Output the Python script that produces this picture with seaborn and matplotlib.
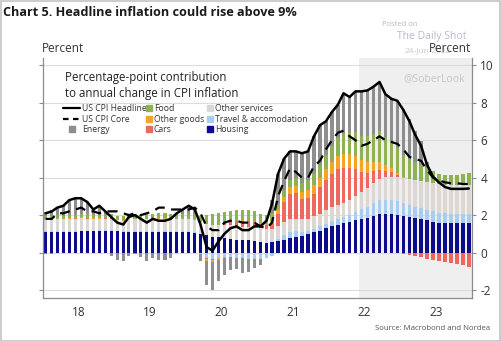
import numpy as np
import pandas as pd
import matplotlib
matplotlib.use("Agg")
import matplotlib.pyplot as plt
from matplotlib.lines import Line2D
from matplotlib.patches import Rectangle
import seaborn as sns

# Monthly observations, Jan 2018 - Dec 2023 (forecast from Jun 2022)
months = pd.date_range("2018-01-01", "2023-12-01", freq="MS") + pd.Timedelta(days=14)

headline = [2.1, 2.2, 2.4, 2.5, 2.8, 2.9, 2.9, 2.7, 2.3, 2.5, 2.2, 1.9,
            1.6, 1.5, 1.9, 2.0, 1.8, 1.6, 1.8, 1.7, 1.7, 1.8, 2.1, 2.3,
            2.5, 2.3, 1.5, 0.3, 0.1, 0.6, 1.0, 1.3, 1.4, 1.2, 1.2, 1.4,
            1.4, 1.7, 2.6, 4.2, 5.0, 5.4, 5.4, 5.3, 5.4, 6.2, 6.8, 7.0,
            7.5, 7.9, 8.5, 8.3, 8.6, 8.6, 8.65, 8.85, 9.1, 8.45, 8.2, 8.1,
            7.6, 7.0, 6.3, 5.7, 4.7, 4.05, 3.75, 3.5, 3.4, 3.4, 3.4, 3.42]

core = [1.8, 1.8, 2.1, 2.1, 2.2, 2.3, 2.4, 2.2, 2.2, 2.1, 2.2, 2.2,
        2.2, 2.1, 2.0, 2.1, 2.0, 2.1, 2.2, 2.4, 2.4, 2.3, 2.3, 2.3,
        2.3, 2.4, 2.1, 1.4, 1.2, 1.2, 1.6, 1.7, 1.7, 1.6, 1.6, 1.6,
        1.4, 1.3, 1.6, 3.0, 3.8, 4.5, 4.3, 4.0, 4.0, 4.6, 4.9, 5.5,
        6.0, 6.4, 6.5, 6.2, 6.0, 5.7, 5.8, 6.0, 6.2, 6.0, 5.9, 5.8,
        5.5, 5.1, 5.0, 4.9, 4.4, 4.0, 3.85, 3.75, 3.7, 3.7, 3.66, 3.66]

housing = [1.10, 1.10, 1.11, 1.11, 1.12, 1.12, 1.13, 1.13, 1.13, 1.14, 1.14, 1.14,
           1.13, 1.12, 1.12, 1.11, 1.10, 1.10, 1.10, 1.10, 1.10, 1.09, 1.08, 1.08,
           1.08, 1.07, 1.02, 0.92, 0.86, 0.82, 0.78, 0.74, 0.70, 0.67, 0.65, 0.63,
           0.58, 0.54, 0.55, 0.62, 0.68, 0.76, 0.84, 0.90, 0.98, 1.08, 1.18, 1.30,
           1.42, 1.50, 1.58, 1.65, 1.72, 1.80, 1.84, 1.95, 2.05, 2.05, 2.04, 2.02,
           1.96, 1.90, 1.84, 1.78, 1.72, 1.66, 1.60, 1.57, 1.56, 1.56, 1.56, 1.56]

travel = [0.05, 0.05, 0.05, 0.05, 0.05, 0.05, 0.05, 0.05, 0.05, 0.05, 0.05, 0.05,
          0.05, 0.05, 0.05, 0.05, 0.05, 0.05, 0.05, 0.05, 0.05, 0.05, 0.05, 0.05,
          0.05, 0.04, -0.05, -0.30, -0.35, -0.30, -0.25, -0.25, -0.28, -0.30, -0.32, -0.35,
          -0.35, -0.30, -0.20, 0.10, 0.25, 0.35, 0.30, 0.22, 0.18, 0.20, 0.22, 0.25,
          0.28, 0.30, 0.33, 0.38, 0.45, 0.53, 0.62, 0.72, 0.78, 0.78, 0.76, 0.72,
          0.68, 0.65, 0.62, 0.60, 0.58, 0.55, 0.52, 0.52, 0.52, 0.52, 0.52, 0.52]

services = [0.60, 0.60, 0.62, 0.62, 0.63, 0.64, 0.65, 0.63, 0.62, 0.60, 0.62, 0.62,
            0.55, 0.52, 0.60, 0.62, 0.60, 0.62, 0.64, 0.66, 0.66, 0.64, 0.64, 0.64,
            0.65, 0.65, 0.62, 0.60, 0.60, 0.65, 0.70, 0.72, 0.72, 0.72, 0.72, 0.72,
            0.72, 0.72, 0.72, 0.70, 0.70, 0.68, 0.66, 0.65, 0.65, 0.66, 0.68, 0.70,
            0.72, 0.74, 0.76, 0.80, 0.85, 0.90, 0.98, 1.05, 1.12, 1.20, 1.26, 1.32,
            1.36, 1.40, 1.42, 1.45, 1.48, 1.50, 1.52, 1.52, 1.53, 1.53, 1.54, 1.55]

cars = [-0.05, -0.05, -0.03, -0.02, 0.00, 0.02, 0.03, 0.03, 0.02, 0.02, 0.02, 0.02,
        0.02, 0.02, 0.00, 0.00, -0.02, -0.02, -0.02, -0.02, -0.03, -0.03, -0.03, -0.02,
        -0.02, -0.02, -0.02, -0.05, -0.05, 0.00, 0.05, 0.15, 0.25, 0.30, 0.30, 0.28,
        0.25, 0.22, 0.30, 0.65, 1.05, 1.35, 1.40, 1.10, 1.10, 1.20, 1.40, 1.65,
        1.78, 1.92, 1.85, 1.68, 1.42, 1.05, 0.80, 0.62, 0.48, 0.35, 0.22, 0.10,
        -0.05, -0.12, -0.18, -0.25, -0.32, -0.38, -0.45, -0.50, -0.56, -0.62, -0.68, -0.75]

goods = [0.02, 0.02, 0.03, 0.03, 0.03, 0.03, 0.03, 0.02, 0.02, 0.02, 0.02, 0.02,
         0.03, 0.03, 0.02, 0.02, 0.02, 0.02, 0.02, 0.03, 0.03, 0.02, 0.02, 0.02,
         0.02, 0.02, 0.00, -0.08, -0.10, -0.08, -0.05, 0.00, 0.02, 0.03, 0.03, 0.03,
         0.03, 0.05, 0.10, 0.20, 0.30, 0.35, 0.35, 0.38, 0.42, 0.48, 0.52, 0.58,
         0.62, 0.68, 0.75, 0.75, 0.72, 0.66, 0.58, 0.50, 0.42, 0.32, 0.22, 0.10,
         0.03, 0.00, 0.00, 0.00, 0.00, 0.00, 0.00, 0.00, 0.00, 0.00, 0.00, 0.00]

food = [0.18, 0.18, 0.18, 0.16, 0.16, 0.16, 0.19, 0.19, 0.19, 0.17, 0.16, 0.22,
        0.20, 0.22, 0.27, 0.27, 0.25, 0.27, 0.25, 0.25, 0.27, 0.28, 0.28, 0.25,
        0.25, 0.28, 0.30, 0.50, 0.62, 0.65, 0.65, 0.62, 0.60, 0.55, 0.55, 0.55,
        0.50, 0.48, 0.45, 0.35, 0.35, 0.40, 0.42, 0.48, 0.55, 0.62, 0.70, 0.75,
        0.85, 0.95, 1.05, 1.15, 1.25, 1.30, 1.38, 1.48, 1.65, 1.45, 1.38, 1.30,
        1.20, 1.05, 0.95, 0.85, 0.75, 0.62, 0.55, 0.52, 0.52, 0.55, 0.58, 0.62]

energy = [0.20, 0.30, 0.44, 0.55, 0.81, 0.88, 0.82, 0.65, 0.27, 0.50, 0.19, -0.17,
          -0.38, -0.46, -0.16, -0.07, -0.20, -0.44, -0.24, -0.37, -0.38, -0.25, 0.06, 0.28,
          0.47, 0.26, -0.37, -1.29, -1.48, -1.14, -0.88, -0.68, -0.61, -0.77, -0.73, -0.46,
          -0.33, 0.00, 0.68, 1.58, 1.67, 1.51, 1.43, 1.57, 1.52, 1.96, 2.10, 1.77,
          1.83, 1.81, 2.18, 1.89, 2.19, 2.36, 2.45, 2.53, 2.60, 2.30, 2.32, 2.54,
          2.42, 2.12, 1.65, 1.27, 0.30, 0.05, 0.00, 0.00, 0.00, 0.00, 0.00, 0.00]

components = [
    ("Housing", housing, "#0c0c8a"),
    ("Travel & accomodation", travel, "#a9cdf0"),
    ("Other services", services, "#dcd7d3"),
    ("Cars", cars, "#ef6860"),
    ("Other goods", goods, "#f4a526"),
    ("Food", food, "#8db153"),
    ("Energy", energy, "#8e8e8e"),
]

forecast_start = pd.Timestamp("2022-06-01")

sns.set_theme(style="white")
plt.rcParams["font.family"] = ["Open Sans", "DejaVu Sans"]

W, H = 501, 341
fig = plt.figure(figsize=(W / 100, H / 100), dpi=100)
fig.patch.set_facecolor("white")

ax_l, ax_r, ax_t, ax_b = 43, 472, 58, 298
ax = fig.add_axes([ax_l / W, 1 - ax_b / H, (ax_r - ax_l) / W, (ax_b - ax_t) / H])
ax.set_facecolor("white")

# Forecast shading
ax.axvspan(forecast_start, pd.Timestamp("2024-01-01"), color="#efefef", zorder=0, lw=0)

# Grid
for yv in [-2, 0, 2, 4, 6, 8, 10]:
    ax.axhline(yv, color="#dcdcdc", lw=0.8, zorder=0.5)

# Stacked bars, positives upward and negatives downward
pos_base = np.zeros(len(months))
neg_base = np.zeros(len(months))
bar_width = 17
for name, vals, col in components:
    v = np.asarray(vals, dtype=float)
    pos = np.where(v > 0, v, 0.0)
    neg = np.where(v < 0, v, 0.0)
    ax.bar(months, pos, bottom=pos_base, width=bar_width, color=col, lw=0, zorder=2)
    ax.bar(months, neg, bottom=neg_base, width=bar_width, color=col, lw=0, zorder=2)
    pos_base += pos
    neg_base += neg

df = pd.DataFrame({"date": months, "headline": headline, "core": core})
sns.lineplot(data=df, x="date", y="headline", color="black", lw=1.8, ax=ax, zorder=4)
sns.lineplot(data=df, x="date", y="core", color="black", lw=1.6, ax=ax, zorder=4,
             linestyle=(0, (4.5, 3.0)))

ax.set_xlim(pd.Timestamp("2018-01-01"), pd.Timestamp("2023-12-31"))
ax.set_ylim(-2.42, 10.38)
ax.set_xlabel("")
ax.set_ylabel("")

ax.spines["top"].set_visible(False)
for side in ["left", "right", "bottom"]:
    ax.spines[side].set_visible(True)
    ax.spines[side].set_color("#8c8c8c")
    ax.spines[side].set_linewidth(0.9)

ax.set_yticks([-2, 0, 2, 4, 6, 8, 10])
ax.yaxis.set_major_formatter(matplotlib.ticker.FuncFormatter(lambda v, p: f"{v:.0f}"))
ax.tick_params(axis="y", left=True, right=True, labelleft=False, labelright=True,
               length=3, width=0.8, color="#8c8c8c", labelsize=8.5, labelcolor="#333333", pad=3)

years = pd.date_range("2018-01-01", "2024-01-01", freq="YS")
ax.set_xticks(years[:-1])
ax.set_xticklabels([])
mids = [pd.Timestamp(f"{y}-07-01") for y in range(2018, 2024)]
ax.set_xticks(mids, minor=True)
ax.set_xticklabels([str(y)[2:] for y in range(2018, 2024)], minor=True)
ax.tick_params(axis="x", which="major", length=3, width=0.8, color="#8c8c8c", direction="out")
ax.tick_params(axis="x", which="minor", length=0, labelsize=8.5, labelcolor="#333333", pad=6)

# Inner caption and legend
fig.text(65 / W, 1 - 77 / H, "Percentage-point contribution", fontsize=8.3, color="#222222",
         va="center", ha="left")
fig.text(65 / W, 1 - 93 / H, "to annual change in CPI inflation", fontsize=8.3, color="#222222",
         va="center", ha="left")

col_map = {n: c for n, _, c in components}
line_handles = [
    Line2D([], [], color="black", lw=1.6),
    Line2D([], [], color="black", lw=1.6, linestyle=(0, (2.5, 2.0))),
    Line2D([], [], color=col_map["Energy"], marker="s", ms=4, lw=0),
]
leg1 = ax.legend(line_handles, ["US CPI Headline", "US CPI Core", "Energy"],
                 loc="upper left", bbox_to_anchor=((63 - ax_l) / (ax_r - ax_l), 1 - (104 - ax_t) / (ax_b - ax_t)),
                 frameon=False, fontsize=6.2, handlelength=2.0, handletextpad=0.25,
                 labelspacing=0.18, borderaxespad=0, borderpad=0)
for t in leg1.get_texts():
    t.set_color("#333333")
ax.add_artist(leg1)

sq_names = ["Food", "Other goods", "Cars", "Other services", "Travel & accomodation", "Housing"]
sq_handles = [Line2D([], [], color=col_map[n], marker="s", ms=4, lw=0) for n in sq_names]
leg2 = ax.legend(sq_handles, sq_names, ncol=2,
                 loc="upper left", bbox_to_anchor=((146 - ax_l) / (ax_r - ax_l), 1 - (104 - ax_t) / (ax_b - ax_t)),
                 frameon=False, fontsize=6.2, handlelength=0.6, handletextpad=0.3,
                 labelspacing=0.18, columnspacing=0.4, borderaxespad=0, borderpad=0)
for t in leg2.get_texts():
    t.set_color("#333333")

# Header texts
fig.text(3 / W, 1 - 13 / H, "Chart 5. Headline inflation could rise above 9%", fontsize=9.1,
         fontweight="bold", color="#1a1a1a", va="center", ha="left")
fig.text(42 / W, 1 - 49 / H, "Percent", fontsize=8.5, color="#333333", va="center", ha="left")
fig.text(471 / W, 1 - 49 / H, "Percent", fontsize=8.5, color="#333333", va="center", ha="right")
fig.text(433 / W, 1 - 329 / H, "Source: Macrobond and Nordea", fontsize=5.6, color="#555555",
         va="center", ha="center")

# Watermark
fig.text(400 / W, 1 - 24 / H, "Posted on", fontsize=5.5, color="#b9b9b9", va="center", ha="center")
fig.text(432 / W, 1 - 37 / H, "The Daily Shot", fontsize=7.5, color="#b4bccb", va="center", ha="center")
fig.text(428 / W, 1 - 51 / H, "24-Jun-2022", fontsize=6, color="#c8c8c8", va="center", ha="center",
         zorder=0)
fig.text(434 / W, 1 - 79 / H, "@SoberLook", fontsize=7.5, color="#c2c6ce", va="center", ha="center")

# Outer frame
fig.add_artist(Rectangle((0.5 / W, 0.5 / H), (W - 1.5) / W, (H - 1.5) / H, transform=fig.transFigure,
                         fill=False, edgecolor="#c4c4c4", lw=1.2))

fig.savefig("out.png", dpi=100)
